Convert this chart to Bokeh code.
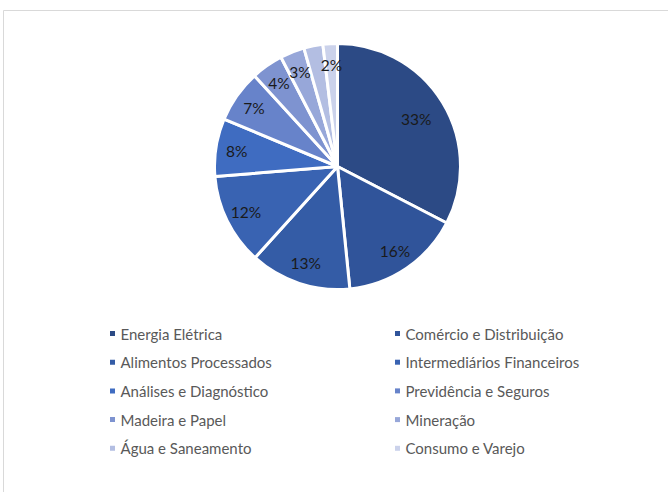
import math
from bokeh.plotting import figure
from bokeh.models import Range1d, ColumnDataSource
from bokeh.core.properties import value
from bokeh.embed import file_html
from bokeh.resources import INLINE

# ---- data ----
sectors = ["Energia Elétrica", "Comércio e Distribuição", "Alimentos Processados",
           "Intermediários Financeiros", "Análises e Diagnóstico", "Previdência e Seguros",
           "Madeira e Papel", "Mineração", "Água e Saneamento", "Consumo e Varejo"]
shares = [32.6, 15.8, 13.3, 12.0, 7.6, 6.9, 4.2, 3.2, 2.5, 1.9]
pct_labels = ["33%", "16%", "13%", "12%", "8%", "7%", "4%", "3%", "", "2%"]
colors = ["#2C4A85", "#30549A", "#345CA6", "#3963B2", "#3F6CC1",
          "#6783CA", "#7E93D0", "#97A7D9", "#B3BEE2", "#CBD2EB"]

W, H = 668, 492
p = figure(width=W, height=H, output_backend="svg", toolbar_location=None,
           x_range=Range1d(0, W), y_range=Range1d(0, H), min_border=0)
p.axis.visible = False
p.grid.visible = False
p.outline_line_color = None
p.background_fill_color = "white"
p.border_fill_color = "white"

# chart area border (top & left visible)
p.line(x=[3, 3, W + 5], y=[-5, H - 10, H - 10], line_color="#D9D9D9", line_width=1)

cx, cy, R = 337, H - 166, 123
total = sum(shares)
starts, ends, lx, ly = [], [], [], []
cum = 0.0
for s in shares:
    a0 = math.pi / 2 - 2 * math.pi * cum / total
    cum += s
    a1 = math.pi / 2 - 2 * math.pi * cum / total
    starts.append(a1)
    ends.append(a0)
    mid = (a0 + a1) / 2
    frac = 0.75 if s / total > 0.2 else 0.83
    lx.append(cx + frac * R * math.cos(mid))
    ly.append(cy + frac * R * math.sin(mid))

src = ColumnDataSource(dict(start=starts, end=ends, color=colors, lx=lx, ly=ly, lab=pct_labels))
p.wedge(x=cx, y=cy, radius=R, start_angle="start", end_angle="end", fill_color="color",
        line_color="white", line_width=3, source=src)
p.text(x="lx", y="ly", text="lab", source=src, text_align="center", text_baseline="middle",
       text_font=value("Lato"), text_font_size="15.5px", text_color="#1A1A1A")

# legend (two columns)
col_x = [111, 396]
row_y0, row_dy = 333, 28.7
mx, my, tx, ty = [], [], [], []
for i, name in enumerate(sectors):
    c, r = i % 2, i // 2
    yy = H - (row_y0 + r * row_dy)
    mx.append(col_x[c] + 1)
    my.append(yy)
    tx.append(col_x[c] + 9)
    ty.append(yy)
leg = ColumnDataSource(dict(mx=mx, my=my, tx=tx, ty=ty, name=sectors, color=colors))
p.rect(x="mx", y="my", width=5, height=5, fill_color="color", line_color=None, source=leg)
p.text(x="tx", y="ty", text="name", source=leg, text_baseline="middle",
       text_font=value("Lato"), text_font_size="15px", text_color="#595959")

open("out.html", "w").write(file_html(p, INLINE))
